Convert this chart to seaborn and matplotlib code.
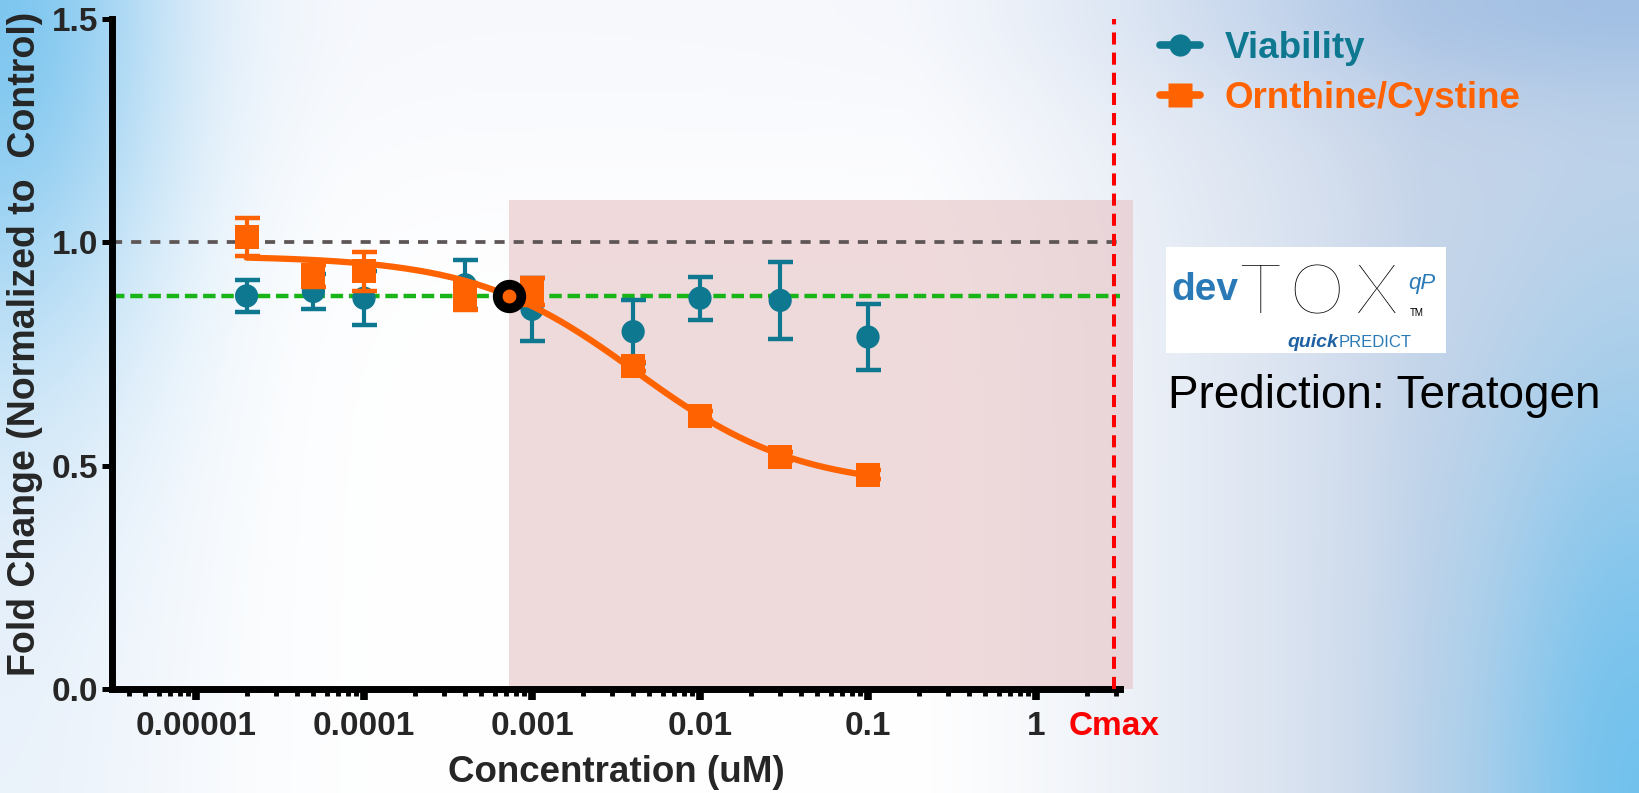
import numpy as np
import pandas as pd
import matplotlib
matplotlib.use("Agg")
import matplotlib.pyplot as plt
import seaborn as sns
from matplotlib.lines import Line2D
from matplotlib.patches import Rectangle
from matplotlib.ticker import FixedLocator, LogLocator, NullFormatter

# ---- data ---------------------------------------------------------------
conc = [2e-5, 5e-5, 1e-4, 4e-4, 1e-3, 4e-3, 1e-2, 3e-2, 1e-1]
viability_mean = [0.880, 0.890, 0.875, 0.905, 0.850, 0.800, 0.875, 0.870, 0.788]
viability_sd = [0.035, 0.040, 0.060, 0.055, 0.070, 0.071, 0.048, 0.086, 0.074]
ratio_mean = [1.012, 0.925, 0.935, 0.878, 0.890, 0.723, 0.612, 0.520, 0.480]
ratio_sd = [0.043, 0.025, 0.044, 0.030, 0.030, 0.010, 0.010, 0.010, 0.010]

# four-parameter logistic fit of the Ornithine/Cystine ratio
fit_top = 0.97
fit_bottom = 0.45
fit_log_ec50 = -2.38
fit_hill = 0.90

control_level = 1.0
threshold = 0.88
cmax = 2.9

series_names = ["Viability", "Ornthine/Cystine"]
xtick_values = [1e-5, 1e-4, 1e-3, 1e-2, 1e-1, 1.0]
xtick_labels = ["0.00001", "0.0001", "0.001", "0.01", "0.1", "1"]
ytick_values = [0.0, 0.5, 1.0, 1.5]
ytick_labels = ["0.0", "0.5", "1.0", "1.5"]

# ---- styling --------------------------------------------------------------
TEAL = "#0e7891"
ORANGE = "#ff6200"
W, H = 1639, 793

sns.set_style("ticks")
plt.rcParams["font.family"] = ["Liberation Sans", "DejaVu Sans"]
plt.rcParams["axes.facecolor"] = "none"


def fx(px):
    return px / W


def fy(py):
    return 1 - py / H


df = pd.DataFrame({
    "conc": conc * 2,
    "mean": viability_mean + ratio_mean,
    "sd": viability_sd + ratio_sd,
    "series": [series_names[0]] * len(conc) + [series_names[1]] * len(conc),
})

fig = plt.figure(figsize=(W / 100, H / 100), dpi=100)

# slide-style backdrop
bg = fig.add_axes([0, 0, 1, 1], zorder=-10)
yy, xx = np.mgrid[0:1:H * 1j, 0:1:W * 1j]
img = np.ones((H, W, 3))


def blend(base, weight, color):
    weight = np.clip(weight, 0, 1)[..., None]
    return base * (1 - weight) + np.array(color) * weight


img = blend(img, 0.55 * np.exp(-(xx / 0.13) ** 2), (0.86, 0.91, 0.97))
img = blend(img, 0.30 * np.exp(-(yy / 0.25) ** 2), (0.90, 0.92, 0.97))
img = blend(img, np.exp(-((xx / 0.10) ** 2 + (yy / 0.45) ** 2)), (0.50, 0.78, 0.94))
img = blend(img, 0.85 * np.clip((xx - 0.55) / 0.32, 0, 1) ** 1.3, (0.75, 0.81, 0.90))
img = blend(img, 0.6 * np.exp(-(((1 - xx) / 0.25) ** 2 + (yy / 0.12) ** 2)), (0.55, 0.70, 0.88))
img = blend(img, np.exp(-(((1 - xx) / 0.10) ** 2 + ((1 - yy) / 0.55) ** 2)), (0.45, 0.76, 0.93))
bg.imshow(img, aspect="auto", extent=(0, 1, 0, 1), origin="upper")
bg.axis("off")

ax = fig.add_axes([fx(112), fy(689), (1120 - 112) / W, (689 - 19) / H])
ax.set_xscale("log")
ax.set_xlim(10 ** -5.5, 10 ** 0.5)
ax.set_ylim(0, 1.5)

# region past the threshold crossing of the fitted curve
x_cross = 10 ** (fit_log_ec50 + np.log10((fit_top - threshold) / (threshold - fit_bottom)) / fit_hill)
ax.fill_between([x_cross, 3.77], 0, 1.094, color=(0.91, 0.78, 0.79), alpha=0.65,
                lw=0, clip_on=False, zorder=0)

# reference levels
ax.axhline(control_level, color="#5e5656", lw=2.7, dashes=(2.7, 2.4), zorder=1)
ax.axhline(threshold, color="#18b418", lw=3.2, dashes=(2.8, 1.3), zorder=1)
ax.axvline(cmax, ymin=0, ymax=1.0, color="#ff0000", lw=2.9, dashes=(3.0, 2.0), zorder=6)

via = df[df.series == series_names[0]]
rat = df[df.series == series_names[1]]

ax.errorbar(via["conc"], via["mean"], yerr=via["sd"], fmt="none", ecolor=TEAL,
            elinewidth=3, capsize=9, capthick=3.2, zorder=2)
sns.scatterplot(data=via, x="conc", y="mean", marker="o", s=280, color=TEAL,
                edgecolor="none", legend=False, ax=ax, zorder=3)

ax.errorbar(rat["conc"], rat["mean"], yerr=rat["sd"], fmt="none", ecolor=ORANGE,
            elinewidth=3, capsize=9, capthick=3.2, zorder=4)
xs = np.logspace(np.log10(conc[0]), np.log10(conc[-1]), 300)
ys = fit_bottom + (fit_top - fit_bottom) / (1 + 10 ** ((np.log10(xs) - fit_log_ec50) * fit_hill))
sns.lineplot(x=xs, y=ys, color=ORANGE, lw=4.5, estimator=None, sort=False, ax=ax, zorder=4)
sns.scatterplot(data=rat, x="conc", y="mean", marker="s", s=300, color=ORANGE,
                edgecolor="none", legend=False, ax=ax, zorder=5)

# crossing point of the fit with the threshold
ax.plot([x_cross], [threshold], marker="o", ms=17, mfc=ORANGE, mec="black", mew=7,
        zorder=7, clip_on=False)

# axes, ticks and labels
sns.despine(ax=ax)
for side in ("left", "bottom"):
    ax.spines[side].set_linewidth(5)
    ax.spines[side].set_color("black")

ax.xaxis.set_major_locator(FixedLocator(xtick_values + [cmax]))
ax.set_xticklabels(xtick_labels + ["Cmax"])
ax.xaxis.set_minor_locator(LogLocator(base=10, subs=np.arange(2, 10), numticks=20))
ax.xaxis.set_minor_formatter(NullFormatter())
ax.set_yticks(ytick_values)
ax.set_yticklabels(ytick_labels)

ax.tick_params(axis="x", which="major", direction="out", length=8, width=5.5, pad=8,
               labelsize=24, color="black")
ax.tick_params(axis="x", which="minor", direction="out", length=5, width=3.5, color="black")
ax.tick_params(axis="y", which="major", direction="out", length=7, width=3.6, pad=3,
               labelsize=24, color="black")
for lab in ax.get_xticklabels() + ax.get_yticklabels():
    lab.set_fontweight("bold")
cmax_tick = ax.xaxis.get_major_ticks()[-1]
cmax_tick.tick1line.set_visible(False)
cmax_tick.label1.set_color("#ff0000")

ax.set_xlabel("Concentration (uM)", fontsize=26.5, fontweight="bold")
ax.set_ylabel("Fold Change (Normalized to  Control)", fontsize=27, fontweight="bold")
ax.xaxis.set_label_coords(0.5, -0.098)
ax.yaxis.set_label_coords(-0.068, 0.515)

# legend
handles = [
    Line2D([0], [0], color=TEAL, lw=5.5, marker="o", ms=16, mec="none"),
    Line2D([0], [0], color=ORANGE, lw=5.5, marker="s", ms=17, mec="none"),
]
fig.legend(handles, series_names, loc="upper left", bbox_to_anchor=(fx(1160), fy(31)),
           frameon=False, prop={"weight": "bold", "size": 26.5}, labelcolor=[TEAL, ORANGE],
           handlelength=1.1, handletextpad=0.65, labelspacing=0.4, borderpad=0,
           borderaxespad=0)

# product badge
fig.add_artist(Rectangle((fx(1166), fy(353)), (1446 - 1166) / W, (353 - 247) / H,
                         transform=fig.transFigure, facecolor="white", edgecolor="none"))
BLUE = "#2a7ab8"
fig.text(fx(1171), fy(300), "dev", fontsize=28, fontweight="bold", color=BLUE,
         va="baseline", ha="left")
for letter, cx in (("T", 1260), ("O", 1316), ("X", 1377)):
    fig.text(fx(cx), fy(313), letter, fontsize=50, fontweight="light", color="black",
             family=["Lato", "DejaVu Sans"], va="baseline", ha="center")
fig.text(fx(1408), fy(289), "qP", fontsize=16, style="italic", color=BLUE,
         va="baseline", ha="left")
fig.text(fx(1410), fy(316), "TM", fontsize=7, color="black", va="baseline", ha="left")
fig.text(fx(1287), fy(347), "quick", fontsize=14, fontweight="bold", style="italic",
         color="#1f62a4", va="baseline", ha="left")
fig.text(fx(1339), fy(347), "PREDICT", fontsize=12, color=BLUE,
         va="baseline", ha="left")

fig.text(fx(1168), fy(408), "Prediction: Teratogen", fontsize=33, color="black",
         va="baseline", ha="left")

fig.savefig("out.png", dpi=100)
